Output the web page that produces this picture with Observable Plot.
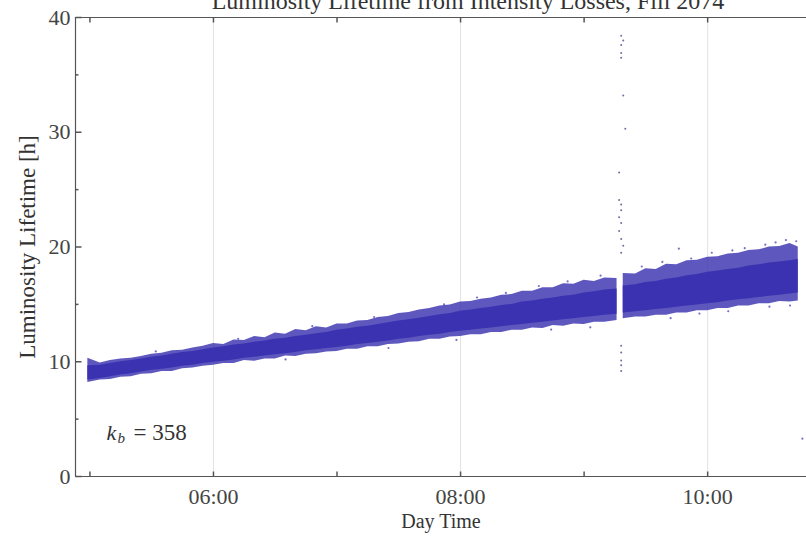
<!DOCTYPE html>
<html>
<head>
<meta charset="utf-8">
<script src="https://cdn.jsdelivr.net/npm/d3@7"></script>
<script src="https://cdn.jsdelivr.net/npm/@observablehq/plot@0.6"></script>
<style>
  html, body { margin: 0; padding: 0; background: #fff; }
</style>
</head>
<body>
<div id="chart"></div>
<script>
// Luminosity lifetime vs. time of day; band envelope sampled every ~5 minutes
const title = "Luminosity Lifetime from Intensity Losses, Fill 2074";
const xLabel = "Day Time";
const yLabel = "Luminosity Lifetime [h]";
const xDomain = ["04:53", "10:48"];
const yDomain = [0, 40];
const hourTicks = ["05:00", "06:00", "07:00", "08:00", "09:00", "10:00"];
const hourLabels = ["06:00", "08:00", "10:00"];
const yMajorTicks = [0, 10, 20, 30, 40];
const yMinorTicks = [5, 15, 25, 35];
const bunches = "358";

// sample times (the NaN row marks the data gap)
const bandTime = ["04:59","05:05","05:10","05:15","05:20","05:25","05:30","05:35","05:40","05:45","05:50","05:55",
  "06:00","06:05","06:10","06:15","06:20","06:25","06:30","06:35","06:40","06:45","06:50","06:55",
  "07:00","07:05","07:10","07:15","07:20","07:25","07:30","07:35","07:40","07:45","07:50","07:55",
  "08:00","08:05","08:10","08:15","08:20","08:25","08:30","08:35","08:40","08:45","08:50","08:55",
  "09:00","09:05","09:10","09:16","09:17","09:19","09:25","09:30","09:35","09:40","09:45","09:50","09:55",
  "10:00","10:05","10:10","10:15","10:20","10:25","10:30","10:35","10:40","10:44"];
// outer (sparse) edge of the scatter
const outerLow = [8.2,8.4,8.45,8.65,8.7,8.9,8.95,9.15,9.15,9.4,9.45,9.6,
  9.7,9.85,9.85,10.1,10.05,10.25,10.25,10.5,10.45,10.65,10.7,10.85,
  10.9,11.1,11.1,11.3,11.3,11.5,11.55,11.7,11.75,11.95,11.95,12.15,
  12.2,12.35,12.35,12.55,12.55,12.75,12.75,12.95,12.9,13.15,13.1,13.3,
  13.25,13.45,13.45,13.6,NaN,13.75,13.9,13.9,14.05,14.05,14.25,14.25,14.45,
  14.45,14.65,14.65,14.85,14.85,15.05,15.05,15.25,15.2,15.3];
const outerHigh = [10.3,9.9,10.1,10.25,10.3,10.45,10.65,10.75,10.95,11.0,11.2,11.35,
  11.6,11.5,11.9,11.85,12.2,12.1,12.5,12.4,12.8,12.7,13.05,12.95,
  13.3,13.3,13.55,13.6,13.85,13.95,14.2,14.3,14.5,14.65,14.85,14.95,
  15.2,15.25,15.45,15.55,15.8,15.85,16.15,16.15,16.45,16.45,16.8,16.75,
  17.1,17.0,17.3,17.25,NaN,17.7,17.65,18.1,18.05,18.5,18.45,18.8,18.85,
  19.1,19.15,19.4,19.45,19.7,19.75,20.0,20.05,20.3,20.0];
// dense core of the scatter
const coreLow = [8.4,8.55,8.7,8.85,8.95,9.1,9.25,9.35,9.45,9.6,9.7,9.85,
  9.95,10.05,10.15,10.3,10.4,10.5,10.6,10.7,10.8,10.95,11.05,11.15,
  11.25,11.35,11.5,11.6,11.7,11.8,11.95,12.05,12.2,12.3,12.4,12.55,
  12.65,12.75,12.85,12.95,13.05,13.15,13.25,13.35,13.45,13.55,13.65,13.75,
  13.85,13.95,14.05,14.15,NaN,14.25,14.35,14.45,14.55,14.65,14.75,14.85,14.95,
  15.05,15.15,15.3,15.4,15.5,15.6,15.7,15.8,15.9,16.0];
const coreHigh = [9.65,9.7,9.85,10.0,10.1,10.25,10.4,10.5,10.65,10.8,10.9,11.05,
  11.2,11.3,11.45,11.55,11.7,11.8,11.95,12.05,12.2,12.3,12.45,12.55,
  12.75,12.85,13.0,13.1,13.25,13.4,13.55,13.65,13.8,13.95,14.1,14.2,
  14.4,14.5,14.65,14.75,14.9,15.0,15.2,15.3,15.45,15.55,15.7,15.8,
  16.0,16.1,16.25,16.35,NaN,16.6,16.7,16.9,17.0,17.2,17.3,17.5,17.6,
  17.8,17.9,18.05,18.15,18.35,18.45,18.6,18.7,18.8,18.9];

// scattered points outside the band
const strayTime = ["05:32","06:12","06:48","07:18","07:52","08:08","08:22","08:38","08:52","09:08",
  "09:28","09:38","09:46","09:52","10:02","10:12","10:18","10:28","10:33","10:38","10:43",
  "06:35","07:25","07:58","08:44","09:03","09:42","09:56","10:10","10:30","10:40","10:46"];
const strayValue = [10.9,12.0,13.1,13.9,15.0,15.6,16.0,16.6,17.0,17.5,
  18.3,18.7,19.85,19.0,19.5,19.7,19.9,20.2,20.4,20.6,20.5,
  10.2,11.2,11.9,12.8,13.0,13.8,14.2,14.4,14.8,14.9,3.3];
// burst of readings at the refill moment
const burstTime = ["09:18","09:19","09:18","09:18","09:18","09:19","09:20","09:17","09:17","09:18","09:18",
  "09:17","09:18","09:17","09:18","09:19","09:18","09:18","09:18","09:18","09:18","09:18"];
const burstValue = [38.4,38.0,37.6,36.9,36.5,33.2,30.3,26.5,24.1,23.7,23.2,
  22.6,22.1,21.4,20.7,20.1,19.5,11.4,10.8,10.1,9.7,9.2];

const hours = s => { const [h, m] = s.split(":").map(Number); return h + m / 60; };

const band = bandTime.map((t, i) => ({
  t: hours(t), lo: outerLow[i], hi: outerHigh[i], clo: coreLow[i], chi: coreHigh[i]
}));
const stray = strayTime.map((t, i) => ({t: hours(t), v: strayValue[i]}));
const burst = burstTime.map((t, i) => ({t: hours(t), v: burstValue[i]}));

// short inward frame ticks
const tickShape = (dx, dy) => ({draw(c) { c.moveTo(0, 0); c.lineTo(dx, dy); }});
const upTick = tickShape(0, -5), downTick = tickShape(0, 5);
const rightMajor = tickShape(6, 0), rightMinor = tickShape(3, 0);

const blue = "#3a32b0";
const axisGray = "#555";
const serif = "'Liberation Serif', 'Times New Roman', serif";
const label = {lineAnchor: "middle", fill: "#333"};

const chart = Plot.plot({
  width: 806,
  height: 537,
  marginLeft: 75,
  marginRight: 0,
  marginTop: 17,
  marginBottom: 61,
  style: {fontFamily: serif, background: "#fff"},
  x: {type: "linear", domain: xDomain.map(hours), axis: null},
  y: {domain: yDomain, axis: null},
  marks: [
    Plot.ruleX(hourLabels.map(hours), {stroke: "#e2e2e2", strokeWidth: 1}),
    Plot.areaY(band, {x: "t", y1: "lo", y2: "hi", fill: blue, fillOpacity: 0.82}),
    Plot.areaY(band, {x: "t", y1: "clo", y2: "chi", fill: blue}),
    Plot.dot(stray, {x: "t", y: "v", r: 1.1, fill: blue, fillOpacity: 0.7}),
    Plot.dot(burst, {x: "t", y: "v", r: 1, fill: "#4a4a8a", fillOpacity: 0.8}),
    // frame
    Plot.ruleY(yDomain, {stroke: axisGray, strokeWidth: 1.2}),
    Plot.ruleX([hours(xDomain[0])], {stroke: axisGray, strokeWidth: 1.2}),
    Plot.dot(hourTicks.map(hours), {x: d => d, y: yDomain[0], symbol: upTick, stroke: axisGray, r: 3}),
    Plot.dot(hourTicks.map(hours), {x: d => d, y: yDomain[1], symbol: downTick, stroke: axisGray, r: 3}),
    Plot.dot(yMajorTicks, {x: hours(xDomain[0]), y: d => d, symbol: rightMajor, stroke: axisGray, r: 3}),
    Plot.dot(yMinorTicks, {x: hours(xDomain[0]), y: d => d, symbol: rightMinor, stroke: axisGray, r: 3}),
    // tick labels
    Plot.text(hourLabels, {x: hours, y: yDomain[0], text: d => d, dy: 20, fontSize: 22, ...label, fill: "#444"}),
    Plot.text(yMajorTicks, {x: hours(xDomain[0]), y: d => d, text: d => String(d), dx: -5, textAnchor: "end", fontSize: 22, ...label, fill: "#444"}),
    // titles
    Plot.text([title], {frameAnchor: "top", dx: 27, dy: -16, fontSize: 24, textAnchor: "middle", ...label}),
    Plot.text([xLabel], {frameAnchor: "bottom", dy: 45, fontSize: 20, textAnchor: "middle", ...label}),
    Plot.text([yLabel], {frameAnchor: "left", dx: -48, rotate: -90, fontSize: 23, textAnchor: "middle", ...label}),
    // bunch count annotation
    Plot.text(["k"], {frameAnchor: "bottom-left", dx: 31, dy: -44, textAnchor: "start", fontSize: 22, fontStyle: "italic", ...label}),
    Plot.text(["b"], {frameAnchor: "bottom-left", dx: 42, dy: -38, textAnchor: "start", fontSize: 15, fontStyle: "italic", ...label}),
    Plot.text([`= ${bunches}`], {frameAnchor: "bottom-left", dx: 58, dy: -44, textAnchor: "start", fontSize: 23, ...label})
  ]
});
document.getElementById("chart").appendChild(chart);
</script>
</body>
</html>
